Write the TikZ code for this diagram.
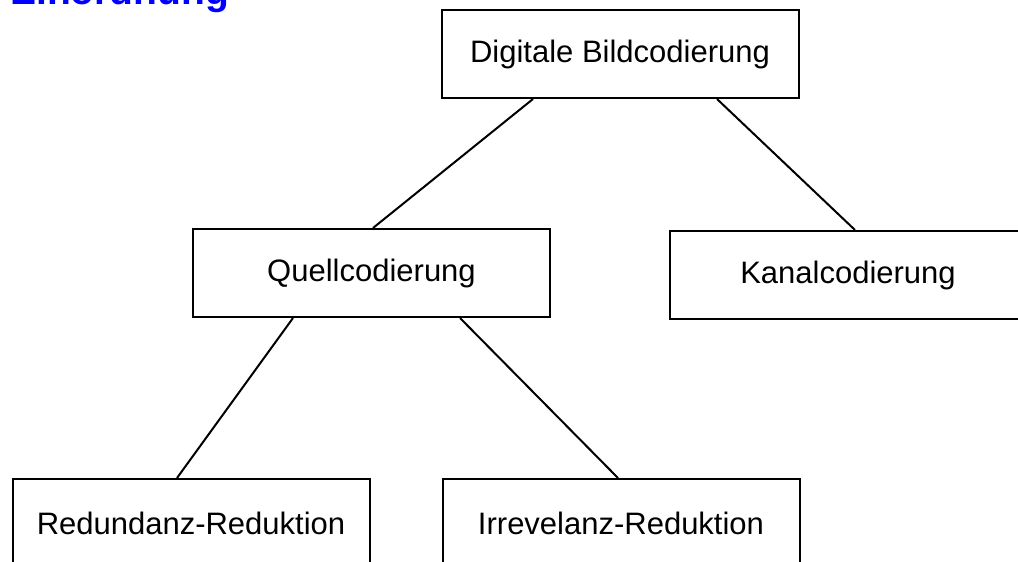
\documentclass[tikz,border=0pt]{standalone}
\usepackage{fontspec}
\setmainfont{Liberation Sans}
\begin{document}
\begin{tikzpicture}[x=1pt,y=-1pt]
	\tikzstyle{every node}+=[inner sep=0pt]
	\tikzstyle{codebox}=[draw=black, line width=2pt, minimum width=357pt, minimum height=88pt, font=\fontsize{31}{36}\selectfont]
	\tikzstyle{zweig}=[black, line width=2pt]
	\useasboundingbox (0,0) rectangle (1018,562);
	\clip (0,0) rectangle (1018,562);
	\draw (10,5) node [anchor=base west, text=blue, font=\fontsize{39}{44}\selectfont\bfseries] (titel) {Einordnung};
	\draw (620,54) node [codebox] (bild) {Digitale Bildcodierung};
	\draw (371.5,273) node [codebox] (quell) {Quellcodierung};
	\draw (848,275) node [codebox] (kanal) {Kanalcodierung};
	\draw (191,523) node [codebox] (redund) {Redundanz-Reduktion};
	\draw (621,523) node [codebox] (irrel) {Irrevelanz-Reduktion};
	\draw [zweig] ([xshift=-87pt]bild.south) -- ([xshift=1.5pt]quell.north);
	\draw [zweig] ([xshift=97pt]bild.south) -- ([xshift=7pt]kanal.north);
	\draw [zweig] ([xshift=-78.5pt]quell.south) -- ([xshift=-14pt]redund.north);
	\draw [zweig] ([xshift=88.5pt]quell.south) -- ([xshift=-3pt]irrel.north);
\end{tikzpicture}
\end{document}
